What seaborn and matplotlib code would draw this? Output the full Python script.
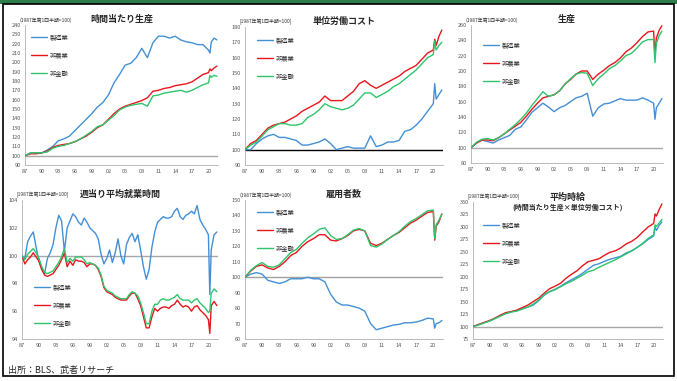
import numpy as np
import pandas as pd
import matplotlib
matplotlib.use("Agg")
import matplotlib.pyplot as plt
import seaborn as sns
from matplotlib.patches import Rectangle

# x positions: annual points, then quarterly-ish around covid
years = list(range(1987, 2020)) + [2020.0, 2020.25, 2020.5, 2021.0, 2021.5]
half_years = list(np.arange(1987.0, 2020.0, 0.5)) + [2020.0, 2020.25, 2020.5, 2021.0, 2021.5]

names = ["製造業", "非農業", "非金融"]
colors = {"製造業": "#4390d6", "非農業": "#e8161c", "非金融": "#2fc46c"}

# 時間当たり生産
prod_mfg = [100, 103, 103, 103, 106, 110, 116, 118, 121, 127, 133, 139, 145, 152, 157, 165, 178,
            187, 197, 199, 205, 215, 205, 221, 228, 228, 226, 228, 224, 222, 221, 219, 219,
            213, 210, 222, 226, 224]
prod_nfb = [100, 102, 102, 103, 105, 109, 111, 112, 113, 115, 118, 121, 125, 130, 133, 139, 145,
            150, 153, 155, 157, 159, 162, 169, 170, 172, 173, 175, 176, 177, 179, 183, 187,
            189, 193, 191, 194, 196]
prod_nfc = [100, 103, 103, 103, 104, 108, 110, 111, 113, 115, 118, 122, 126, 131, 133, 138, 143,
            149, 152, 154, 155, 156, 153, 164, 165, 167, 168, 169, 170, 168, 170, 173, 176,
            178, 186, 184, 186, 185]

# 単位労働コスト
ulc_mfg = [100, 100, 104, 107, 109, 110, 108, 108, 107, 106, 103, 103, 104, 105, 107, 104, 100,
           101, 102, 101, 101, 101, 109, 102, 103, 105, 105, 106, 112, 113, 116, 120, 125,
           130, 143, 133, 136, 139]
ulc_nfb = [100, 104, 106, 110, 114, 116, 117, 118, 120, 122, 125, 127, 129, 131, 135, 132, 132,
           132, 135, 138, 143, 145, 142, 140, 142, 144, 146, 148, 151, 153, 155, 159, 163,
           165, 172, 168, 174, 178]
ulc_nfc = [100, 103, 105, 109, 113, 115, 117, 117, 116, 116, 117, 121, 123, 126, 130, 128, 127,
           126, 127, 129, 133, 137, 137, 134, 136, 138, 141, 143, 146, 149, 152, 156, 160,
           162, 171, 165, 168, 170]

# 生産
out_mfg = [100, 106, 110, 108, 106, 110, 113, 116, 124, 127, 136, 146, 152, 158, 153, 147, 152,
           155, 160, 165, 167, 171, 141, 152, 157, 158, 161, 164, 162, 162, 162, 165, 162,
           158, 137, 152, 158, 164]
out_nfb = [100, 106, 110, 110, 109, 113, 118, 123, 128, 133, 141, 150, 158, 165, 167, 169, 174,
           183, 189, 196, 200, 200, 189, 196, 201, 207, 211, 217, 225, 230, 237, 245, 251,
           252, 222, 243, 253, 259]
out_nfc = [100, 107, 111, 112, 110, 113, 118, 124, 130, 137, 145, 155, 164, 173, 167, 169, 174,
           183, 190, 196, 198, 197, 181, 190, 196, 203, 207, 213, 220, 223, 230, 238, 241,
           241, 211, 236, 246, 252]

# 週当り平均就業時間 (half-year points)
hrs_mfg = [99.9, 99.8, 101.0, 101.4, 101.7, 100.6, 99.6, 99.0, 98.7, 99.8,
           100.2, 100.8, 102.0, 102.9, 102.5, 100.3, 102.0, 102.5, 103.0, 102.8,
           102.4, 102.2, 102.7, 102.4, 102.0, 101.8, 101.6, 101.2, 100.1, 99.4,
           99.8, 100.4, 99.5, 100.2, 101.2, 100.0, 99.4, 100.8, 101.3, 101.6,
           101.0, 101.5, 100.4, 99.2, 98.3, 99.0, 100.6, 101.7, 102.4, 102.6,
           102.8, 102.7, 102.7, 102.8, 103.2, 103.4, 102.8, 102.6, 102.9, 103.0,
           103.2, 103.0, 103.6, 102.6, 102.2, 101.9,
           101.5, 97.2, 100.4, 101.5, 101.7]
hrs_nfb = [100.0, 99.4, 99.7, 99.9, 100.2, 99.9, 99.6, 99.0, 98.6, 98.5,
           98.6, 98.7, 99.0, 99.3, 99.7, 100.2, 99.2, 99.6, 99.3, 99.7,
           99.6, 99.6, 99.5, 99.2, 99.4, 99.4, 99.3, 99.0, 98.5, 97.7,
           97.4, 97.3, 97.2, 97.0, 96.9, 96.8, 96.8, 96.8, 97.1, 97.3,
           97.3, 96.9, 96.4, 95.6, 94.8, 94.8, 95.6, 96.2, 96.0, 96.2,
           96.3, 96.3, 96.2, 96.4, 96.5, 96.8, 96.5, 96.3, 96.4, 96.3,
           96.0, 96.3, 96.4, 96.1, 95.9, 95.7,
           95.4, 94.4, 96.4, 96.7, 96.4]
hrs_nfc = [100.0, 99.7, 100.1, 100.3, 100.5, 100.2, 99.8, 99.2, 98.8, 98.7,
           98.8, 98.9, 99.2, 99.5, 99.9, 100.5, 99.5, 99.8, 99.6, 99.9,
           99.9, 99.9, 99.7, 99.4, 99.5, 99.4, 99.3, 99.1, 98.6, 97.8,
           97.5, 97.4, 97.3, 97.1, 97.0, 96.9, 96.9, 96.9, 97.2, 97.4,
           97.3, 97.1, 96.6, 95.9, 95.1, 95.1, 96.0, 96.5, 96.5, 96.8,
           96.9, 96.8, 96.8, 96.9, 97.0, 97.2, 96.9, 96.8, 96.8, 96.8,
           96.6, 96.8, 96.9, 96.6, 96.4, 96.2,
           95.9, 96.0, 97.3, 97.6, 97.4]

# 雇用者数
emp_mfg = [100, 102, 103, 102, 98, 97, 96, 97, 99, 99, 99, 100, 99, 99, 97, 89, 84,
           82, 82, 81, 80, 78, 70, 66, 67, 68, 69, 69.5, 70.5, 70.5, 71, 72, 73.5,
           73, 67, 70, 70.5, 72]
emp_nfb = [100, 104, 107, 108, 106, 105, 107, 110, 114, 116, 120, 123, 125, 127.5, 127.5, 124, 123.5,
           125, 127, 130, 131, 130, 122, 120.5, 122, 124.5, 127, 129, 132, 135, 137, 139.5, 142,
           142.5, 124, 133, 136, 141]
emp_nfc = [100, 104.5, 107.5, 109.5, 107, 106.5, 108, 112, 116, 118, 122, 125.5, 128, 131, 132, 127, 124.5,
           125, 127.5, 130.5, 131.5, 130, 120.5, 119.5, 121.5, 124.5, 127, 129.5, 133, 136, 138, 140.5, 143,
           143.5, 125, 134, 137, 141]

# 平均時給
wage_mfg = [100, 104, 108, 111, 116, 122, 126, 130, 132, 136, 139, 143, 152, 163, 170, 175, 181,
            188, 194, 200, 207, 215, 223, 226, 231, 235, 238, 241, 248, 252, 259, 266, 275,
            282, 300, 293, 303, 310]
wage_nfb = [100, 104, 108, 112, 117, 123, 128, 130, 133, 138, 143, 150, 157, 167, 176, 181, 187,
            197, 205, 212, 222, 230, 233, 236, 243, 249, 252, 258, 266, 271, 279, 290, 300,
            307, 326, 322, 335, 346]
wage_nfc = [100, 103, 107, 111, 116, 121, 126, 129, 131, 135, 139, 145, 153, 164, 170, 174, 180,
            186, 191, 197, 203, 210, 213, 219, 224, 229, 234, 240, 246, 252, 259, 267, 277,
            284, 304, 301, 308, 315]

xtick_years = list(range(1987, 2021, 3))
xtick_labels = ["87", "90", "93", "96", "99", "02", "05", "08", "11", "14", "17", "20"]

W, H = 677, 381
fig = plt.figure(figsize=(W / 100, H / 100), dpi=100)
sns.set_style("white")
plt.rcParams["font.family"] = ["Noto Sans CJK JP", "DejaVu Sans"]


def box(l, r, t, b):
    return [l / W, 1 - b / H, (r - l) / W, (b - t) / H]


panels = [
    dict(title="時間当たり生産", x=years, data=[prod_mfg, prod_nfb, prod_nfc],
         pos=box(25, 218, 25, 165), ylim=(90, 240), yt=np.arange(90, 241, 10),
         note="(1987年第1四半期=100)", legpos=(0.02, 0.96), base="#a8a8a8"),
    dict(title="単位労働コスト", x=years, data=[ulc_mfg, ulc_nfb, ulc_nfc],
         pos=box(245, 443, 27, 165), ylim=(90, 180), yt=np.arange(90, 181, 10),
         note="[1987年第1四半期=100]", legpos=(0.05, 0.95), base="#000000"),
    dict(title="生産", x=years, data=[out_mfg, out_nfb, out_nfc],
         pos=box(471, 663, 25, 163), ylim=(80, 260), yt=np.arange(80, 261, 20),
         note="(1987年第1四半期=100)", legpos=(0.05, 0.90), base="#a8a8a8"),
    dict(title="週当り平均就業時間", x=half_years, data=[hrs_mfg, hrs_nfb, hrs_nfc],
         pos=box(22, 218, 200, 339), ylim=(94, 104), yt=np.arange(94, 105, 2),
         note="[1987年第1四半期=100]", legpos=(0.05, 0.42), base="#a8a8a8"),
    dict(title="雇用者数", x=years, data=[emp_mfg, emp_nfb, emp_nfc],
         pos=box(245, 443, 200, 339), ylim=(60, 150), yt=np.arange(60, 151, 10),
         note="(1987年第1四半期=100)", legpos=(0.05, 0.96), base="#a0a0a0"),
    dict(title="平均時給", subtitle="(時間当たり生産×単位労働コスト)", x=years,
         data=[wage_mfg, wage_nfb, wage_nfc],
         pos=box(473, 663, 202, 339), ylim=(75, 350), yt=np.arange(75, 351, 25),
         note="[1987年第1四半期=100]", legpos=(0.04, 0.88), base="#a8a8a8"),
]

for p in panels:
    ax = fig.add_axes(p["pos"])
    df = pd.concat([pd.DataFrame({"year": p["x"], "value": v, "series": n})
                    for n, v in zip(names, p["data"])])
    ax.axhline(100, color=p["base"], lw=1.0, zorder=1)
    sns.lineplot(data=df, x="year", y="value", hue="series", palette=colors,
                 hue_order=names, lw=1.0, ax=ax, zorder=3)
    ax.set_xlim(1987, 2021.7)
    ax.set_ylim(*p["ylim"])
    ax.set_xticks(xtick_years)
    ax.set_xticklabels(xtick_labels)
    ax.set_yticks(p["yt"])
    ax.set_xlabel("")
    ax.set_ylabel("")
    ax.tick_params(labelsize=4, colors="#555555", length=1.5, width=0.5, pad=1.5)
    for s in ["top", "right"]:
        ax.spines[s].set_visible(False)
    for s in ["left", "bottom"]:
        ax.spines[s].set_color("#b0b0b0")
        ax.spines[s].set_linewidth(0.6)
    if "subtitle" in p:
        ax.text(0.5, 1.035, p["title"], transform=ax.transAxes, fontsize=6.5,
                fontweight="bold", ha="center", va="center")
        ax.text(0.5, 0.965, p["subtitle"], transform=ax.transAxes, fontsize=5,
                fontweight="bold", ha="center", va="center")
    else:
        ax.set_title(p["title"], fontsize=6.5, fontweight="bold", pad=2)
    ax.text(-0.03, 1.015, p["note"], transform=ax.transAxes, fontsize=3.5,
            ha="left", va="bottom", color="#333333")
    ax.legend(loc="upper left", bbox_to_anchor=p["legpos"], frameon=False, fontsize=4.5,
              handlelength=2.5, labelspacing=1.6, handletextpad=0.5, borderaxespad=0)

fig.text(8 / W, 1 - 370 / H, "出所：BLS、武者リサーチ", fontsize=6.5, ha="left", va="center")

fig.patches.append(Rectangle((0, 1 - 3.5 / H), 1, 3.5 / H, transform=fig.transFigure,
                             facecolor="#2e7d4c", edgecolor="none"))
fig.patches.append(Rectangle((3 / W, 1 - 376 / H), 671 / W, 372.5 / H, transform=fig.transFigure,
                             facecolor="none", edgecolor="black", lw=1.2))

fig.savefig("out.png", dpi=100)
